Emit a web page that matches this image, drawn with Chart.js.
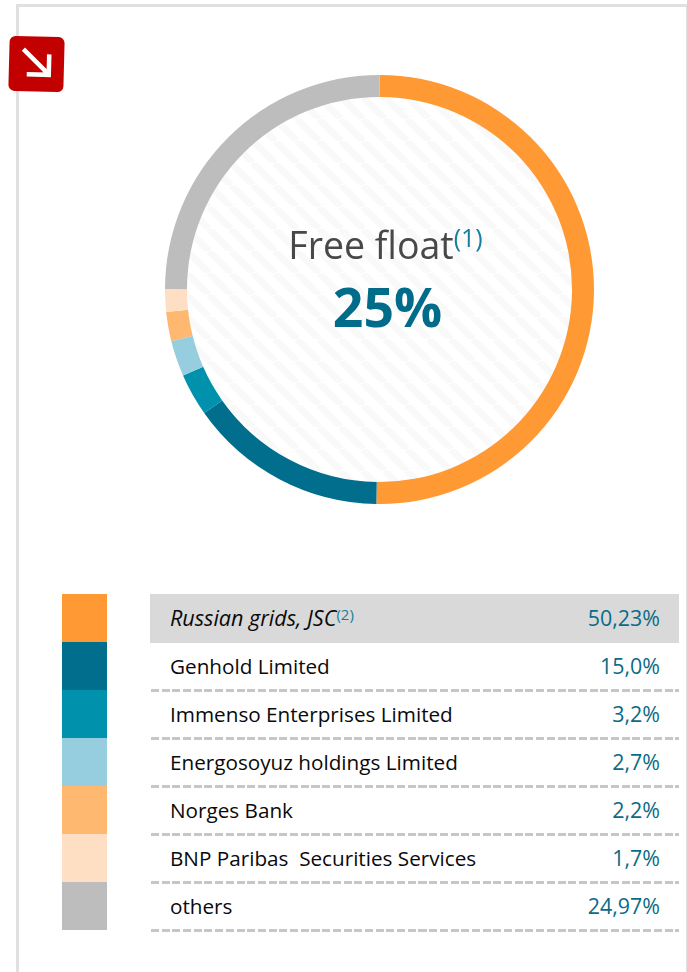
<!DOCTYPE html>
<html><head><meta charset="utf-8">
<script src="https://cdn.jsdelivr.net/npm/chart.js@4"></script>
<style>
html,body{margin:0;padding:0;background:#fff;width:687px;height:972px;overflow:hidden;font-family:"Open Sans",sans-serif}
#frame{position:absolute;left:16px;top:4px;width:667px;height:980px;border:3px solid #e0e0e0;box-sizing:content-box}
#icon{position:absolute;left:6px;top:34px}
#wrap{position:absolute;left:165px;top:75px;width:429px;height:429px}
#t1{position:absolute;left:6px;width:100%;text-align:center;top:145px;font-size:37.5px;line-height:50px;color:#484848;white-space:nowrap}
#t1 sup{color:#16809c;font-size:25px;line-height:0;vertical-align:baseline;position:relative;top:-12px}
#t2{position:absolute;left:8px;width:100%;text-align:center;top:200px;font-size:53.5px;line-height:64px;font-weight:700;color:#006c8a}
#swatches{position:absolute;left:62px;top:594px;width:45px}
#swatches div{height:48px}
#rows{position:absolute;left:150px;top:594px;width:529px}
.row{position:relative;height:48px;font-size:20.7px;color:#0a0a0a}
.row .n{position:absolute;left:20px;top:9px;line-height:30px;white-space:pre}
.row .v{position:absolute;right:19px;top:9px;line-height:30px;color:#0b6b88;font-size:21.4px}
.row .d{position:absolute;left:1px;right:0;bottom:-2px;height:3px;background:repeating-linear-gradient(90deg,#c6c6c6 0 8px,transparent 8px 10.7px)}
.row.first{background:#d9d9d9;height:49px;margin-bottom:-1px}
.row.first .n{font-style:italic;font-size:21.6px}
.row.first .d{display:none}
.sup{color:#16809c;font-size:15px;font-style:normal;position:relative;top:-6px}
</style></head><body>
<div id="frame"></div>
<svg id="icon" width="60" height="60" viewBox="0 0 60 60"><g transform="rotate(1.5 30 30)"><rect x="3" y="2.5" width="55" height="55" rx="6" fill="#c30000"/><path d="M17 15.5 L43 40 M43 20 V40.5 H21" fill="none" stroke="#fff" stroke-width="4.5"/></g></svg>
<div id="wrap"><canvas id="c" width="429" height="429"></canvas>
<div id="t1">Free float<sup>(1)</sup></div><div id="t2">25%</div></div>
<div id="swatches"></div><div id="rows"></div>
<script>
const names=["Russian grids, JSC","Genhold Limited","Immenso Enterprises Limited","Energosoyuz holdings Limited","Norges Bank","BNP Paribas  Securities Services","others"];
const shares=[50.23,15.0,3.2,2.7,2.2,1.7,24.97];
const shareLabels=["50,23%","15,0%","3,2%","2,7%","2,2%","1,7%","24,97%"];
const colors=["#ff9933","#006e8c","#0092ad","#96cddf","#ffb870","#ffdfc4","#bdbdbd"];
const sw=document.getElementById('swatches'),rows=document.getElementById('rows');
names.forEach((n,i)=>{
  const s=document.createElement('div');s.style.background=colors[i];sw.appendChild(s);
  const r=document.createElement('div');r.className='row'+(i===0?' first':'');
  const a=document.createElement('div');a.className='n';a.textContent=n;
  if(i===0){const u=document.createElement('span');u.className='sup';u.textContent='(2)';a.appendChild(u);}
  const b=document.createElement('div');b.className='v';b.textContent=shareLabels[i];
  const d=document.createElement('div');d.className='d';
  r.append(a,b,d);rows.appendChild(r);
});
const hatch={id:'hatch',beforeDatasetsDraw(ch){
  const m=ch.getDatasetMeta(0).data[0],c=ch.ctx;
  const p=document.createElement('canvas');p.width=p.height=22;
  const q=p.getContext('2d');q.fillStyle='#fff';q.fillRect(0,0,22,22);
  q.strokeStyle='#f9f9f9';q.lineWidth=7;
  [-22,0,22].forEach(o=>{q.beginPath();q.moveTo(o,0);q.lineTo(o+22,22);q.stroke();});
  c.save();c.fillStyle=c.createPattern(p,'repeat');c.beginPath();c.arc(m.x,m.y,m.innerRadius,0,Math.PI*2);c.fill();c.restore();
}};
new Chart(document.getElementById('c'),{type:'doughnut',
  data:{labels:names,datasets:[{data:shares,backgroundColor:colors,borderWidth:0}]},
  options:{responsive:false,animation:false,cutout:192.5,rotation:0,circumference:360,
    plugins:{legend:{display:false},tooltip:{enabled:false}},layout:{padding:0}},
  plugins:[hatch]});
</script>
</body></html>
